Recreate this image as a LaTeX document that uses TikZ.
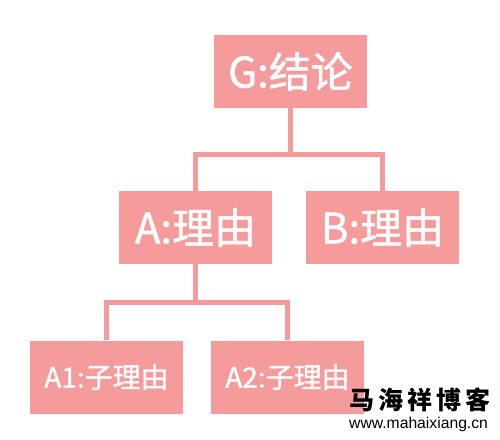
\documentclass[tikz,border=0pt]{standalone}
\usepackage{fontspec}
\setmainfont{Noto Sans CJK SC}
\newfontfamily\boxfont{Noto Sans CJK SC}[FakeBold=1.2]
\newfontfamily\markfont{Liberation Sans}
\usetikzlibrary{positioning}
\definecolor{boxpink}{RGB}{246,155,155}
\tikzset{
  pbox/.style={fill=boxpink,text=white,inner sep=0pt,minimum width=153pt,minimum height=73pt},
  link/.style={draw=boxpink,line width=5pt},
}

\begin{document}
\begin{tikzpicture}[x=1pt,y=-1pt]
    \useasboundingbox (0,0) rectangle (500,439);

    \node[pbox,font=\boxfont\fontsize{42}{44}\selectfont] (G) at (290.5,71.5) {G:结论};
    \node[pbox,font=\boxfont\fontsize{42}{44}\selectfont] (A) at (195.5,227.5) {A:理由};
    \node[pbox,font=\boxfont\fontsize{42}{44}\selectfont] (B) at (382.5,227.5) {B:理由};
    \node[pbox,font=\boxfont\fontsize{28}{30}\selectfont] (A1) at (106.5,377) {A1:子理由};
    \node[pbox,font=\boxfont\fontsize{28}{30}\selectfont] (A2) at (287.5,377) {A2:子理由};

    \draw[link] (G.south) -- ++(0,46.5) -| (A.north);
    \draw[link] (G.south) -- ++(0,46.5) -| (B.north);
    \draw[link] (A.south) -- ++(0,38) -| (A1.north);
    \draw[link] (A.south) -- ++(0,38) -| (A2.north);

    \node[font=\fontsize{25}{27}\selectfont\bfseries,anchor=west,inner sep=0pt] (mark) at (349,400)
    {\makebox[141pt][s]{马\hfill 海\hfill 祥\hfill 博\hfill 客}};
    \node[font=\markfont\fontsize{15.7}{17}\selectfont,anchor=north west,inner sep=0pt] (url) at (349,417) {www.mahaixiang.cn};
  \end{tikzpicture}
\end{document}
